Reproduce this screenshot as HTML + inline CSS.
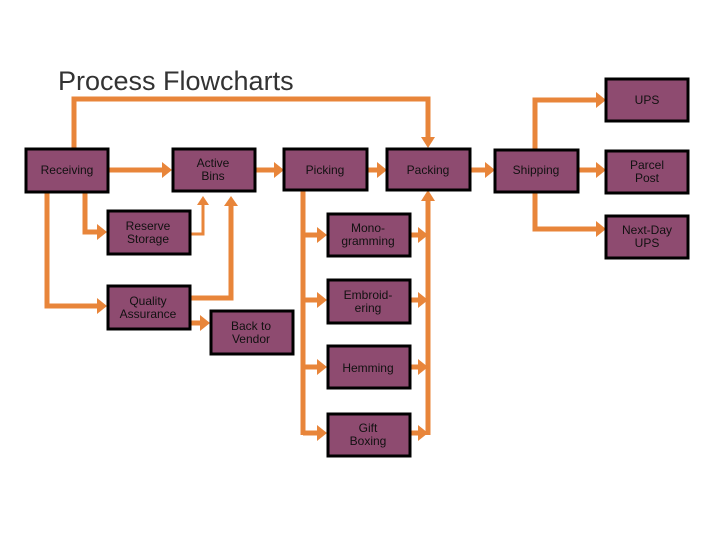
<!DOCTYPE html>
<html><head><meta charset="utf-8"><style>
html,body{margin:0;padding:0;background:#fff;}
svg{display:block;}
text{font-family:"Liberation Sans",Arial,sans-serif;font-size:12px;fill:#111;text-anchor:middle;}
.t{font-family:"Liberation Sans",sans-serif;font-size:27px;fill:#333;text-anchor:start;}
rect{fill:#8E4B70;stroke:#000;stroke-width:3;}
.l{stroke:#E8853A;stroke-width:5;fill:none;}
.th{stroke:#E8853A;stroke-width:3;fill:none;}
.a{fill:#E8853A;}
</style></head><body>
<svg width="720" height="540" viewBox="0 0 720 540">
<text class="t" x="58" y="90">Process Flowcharts</text>
<!-- connectors -->
<polyline class="l" points="74,148 74,99 428,99 428,138"/>
<polygon class="a" points="421,137 435,137 428,148"/>
<line class="l" x1="108" y1="170" x2="164" y2="170"/><polygon class="a" points="162,162 172,170 162,178"/>
<line class="l" x1="255" y1="170" x2="276" y2="170"/><polygon class="a" points="274,162 284,170 274,178"/>
<line class="l" x1="367" y1="170" x2="379" y2="170"/><polygon class="a" points="377,162 387,170 377,178"/>
<line class="l" x1="470" y1="170" x2="487" y2="170"/><polygon class="a" points="485,162 495,170 485,178"/>
<line class="l" x1="578" y1="170" x2="598" y2="170"/><polygon class="a" points="596,162 606,170 596,178"/>
<polyline class="l" points="535,149 535,100 598,100"/><polygon class="a" points="596,92 606,100 596,108"/>
<polyline class="l" points="535,192 535,229 598,229"/><polygon class="a" points="596,221 606,229 596,237"/>
<polyline class="l" points="85,192 85,232 99,232"/><polygon class="a" points="97,224 107,232 97,240"/>
<polyline class="l" points="47,192 47,306 99,306"/><polygon class="a" points="97,298 107,306 97,314"/>
<polyline class="th" points="190,234 203,234 203,204"/><polygon class="a" points="197,205 209,205 203,196"/>
<polyline class="l" points="190,298 231,298 231,205"/><polygon class="a" points="224,206 238,206 231,196"/>
<line class="l" x1="190" y1="323" x2="202" y2="323"/><polygon class="a" points="200,315 210,323 200,331"/>
<line class="l" x1="303" y1="190" x2="303" y2="435"/>
<line class="l" x1="303" y1="235" x2="319" y2="235"/><polygon class="a" points="317,227 327,235 317,243"/>
<line class="l" x1="303" y1="300" x2="319" y2="300"/><polygon class="a" points="317,292 327,300 317,308"/>
<line class="l" x1="303" y1="367" x2="319" y2="367"/><polygon class="a" points="317,359 327,367 317,375"/>
<line class="l" x1="303" y1="433" x2="319" y2="433"/><polygon class="a" points="317,425 327,433 317,441"/>
<line class="l" x1="428" y1="435" x2="428" y2="200"/><polygon class="a" points="421,201 435,201 428,190"/>
<line class="l" x1="410" y1="235" x2="420" y2="235"/><polygon class="a" points="418,227 428,235 418,243"/>
<line class="l" x1="410" y1="300" x2="420" y2="300"/><polygon class="a" points="418,292 428,300 418,308"/>
<line class="l" x1="410" y1="367" x2="420" y2="367"/><polygon class="a" points="418,359 428,367 418,375"/>
<line class="l" x1="410" y1="433" x2="420" y2="433"/><polygon class="a" points="418,425 428,433 418,441"/>
<!-- boxes -->
<rect x="26" y="149" width="82" height="43"/><text x="67" y="174">Receiving</text>
<rect x="173" y="149" width="82" height="42"/><text x="213" y="167">Active</text><text x="213" y="180">Bins</text>
<rect x="284" y="149" width="83" height="41"/><text x="325" y="174">Picking</text>
<rect x="387" y="149" width="83" height="41"/><text x="428" y="174">Packing</text>
<rect x="495" y="150" width="83" height="42"/><text x="536" y="174">Shipping</text>
<rect x="606" y="79" width="82" height="42"/><text x="647" y="104">UPS</text>
<rect x="606" y="151" width="82" height="42"/><text x="647" y="169">Parcel</text><text x="647" y="182">Post</text>
<rect x="606" y="216" width="82" height="42"/><text x="647" y="234">Next-Day</text><text x="647" y="247">UPS</text>
<rect x="108" y="211" width="82" height="43"/><text x="148" y="230">Reserve</text><text x="148" y="243">Storage</text>
<rect x="108" y="286" width="82" height="43"/><text x="148" y="305">Quality</text><text x="148" y="318">Assurance</text>
<rect x="211" y="311" width="82" height="43"/><text x="251" y="330">Back to</text><text x="251" y="343">Vendor</text>
<rect x="328" y="214" width="82" height="42"/><text x="368" y="232">Mono-</text><text x="368" y="245">gramming</text>
<rect x="328" y="280" width="82" height="43"/><text x="368" y="299">Embroid-</text><text x="368" y="312">ering</text>
<rect x="328" y="346" width="82" height="42"/><text x="368" y="372">Hemming</text>
<rect x="328" y="414" width="82" height="42"/><text x="368" y="432">Gift</text><text x="368" y="445">Boxing</text>
</svg>
</body></html>
